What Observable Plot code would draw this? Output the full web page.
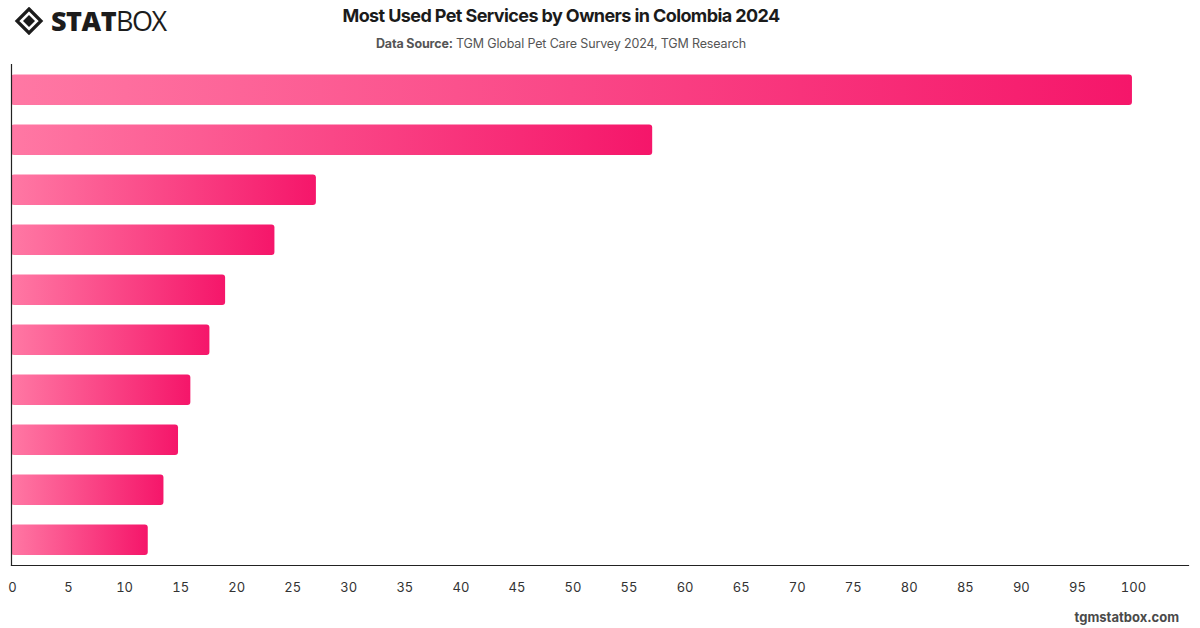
<!DOCTYPE html>
<html>
<head>
<meta charset="utf-8">
<script src="https://cdn.jsdelivr.net/npm/d3@7"></script>
<script src="https://cdn.jsdelivr.net/npm/@observablehq/plot@0.6"></script>
<style>
  html, body { margin: 0; padding: 0; background: #fff; }
  body { width: 1200px; height: 628px; position: relative; overflow: hidden; font-family: Inter, "Noto Sans", sans-serif; }
  #logo { position: absolute; left: 14px; top: 6px; display: flex; align-items: center; }
  #logo .word { font-family: "Open Sans", Inter, sans-serif; font-size: 27px; line-height: 30px; color: #1c1c1c; letter-spacing: -0.5px; }
  #logo .stat { font-weight: 800; }
  #logo .box { font-weight: 400; letter-spacing: -1.5px; }
  #title { position: absolute; left: 0; width: 1122px; top: 5px; text-align: center; white-space: nowrap; font-size: 18px; letter-spacing: -0.6px; font-weight: 700; color: #1b1b1b; }
  #subtitle { position: absolute; left: 0; width: 1122px; top: 36px; text-align: center; white-space: nowrap; font-size: 12.5px; letter-spacing: -0.15px; color: #555; }
  #subtitle b { font-weight: 700; }
  #chart { position: absolute; left: 0; top: 0; }
  #footer { position: absolute; right: 21px; top: 609px; font-size: 13px; font-weight: 700; color: #4a4a4a; }
</style>
</head>
<body>
<div id="logo">
  <svg width="30" height="28" viewBox="0 0 30 28">
    <path d="M15 2 L27 14 L15 26 L3 14 Z" fill="none" stroke="#1c1c1c" stroke-width="3.2" stroke-linejoin="miter"/>
    <path d="M15 8 L21 14 L15 20 L9 14 Z" fill="#1c1c1c"/>
  </svg>
  <span class="word stat" style="margin-left:7px">STAT</span><span class="word box">BOX</span>
</div>
<div id="title">Most Used Pet Services by Owners in Colombia 2024</div>
<div id="subtitle"><b>Data Source:</b> TGM Global Pet Care Survey 2024, TGM Research</div>
<div id="chart"></div>
<div id="footer">tgmstatbox.com</div>
<script>
// Ranked services (labels are not shown on the chart) and their index values
const ranks = [1, 2, 3, 4, 5, 6, 7, 8, 9, 10];
const values = [100, 57.2, 27.2, 23.5, 19.1, 17.7, 16.0, 14.9, 13.6, 12.2];
const xTicks = [0, 5, 10, 15, 20, 25, 30, 35, 40, 45, 50, 55, 60, 65, 70, 75, 80, 85, 90, 95, 100];

const rows = ranks.map((r, i) => ({rank: r, value: values[i]}));

const plot = Plot.plot({
  width: 1200,
  height: 628,
  marginTop: 64,
  marginBottom: 63,
  marginLeft: 11,
  marginRight: 12,
  style: {fontFamily: "Inter, 'Noto Sans', sans-serif", fontSize: "13px", color: "#333", background: "transparent"},
  x: {domain: [0, 105], ticks: xTicks, label: null},
  y: {domain: ranks, paddingInner: 0.4, paddingOuter: 0.2, axis: null},
  marks: [
    () => {
      const svg = d3.create("svg:defs");
      const g = svg.append("linearGradient").attr("id", "barGrad").attr("x1", "0").attr("x2", "1").attr("y1", "0").attr("y2", "0");
      g.append("stop").attr("offset", "0%").attr("stop-color", "#ff78a4");
      g.append("stop").attr("offset", "100%").attr("stop-color", "#f5166a");
      return svg.node();
    },
    Plot.barX(rows, {x: "value", y: "rank", fill: "url(#barGrad)", rx: 3, insetTop: -0.5}),
    Plot.axisX({ticks: xTicks, tickSize: 0, tickPadding: 17, fill: "#333", dx: 1, label: null}),
    Plot.frame({anchor: "bottom", stroke: "#222", strokeWidth: 1.2}),
    Plot.frame({anchor: "left", stroke: "#222", strokeWidth: 1.2})
  ]
});
document.getElementById("chart").appendChild(plot);
</script>
</body>
</html>
